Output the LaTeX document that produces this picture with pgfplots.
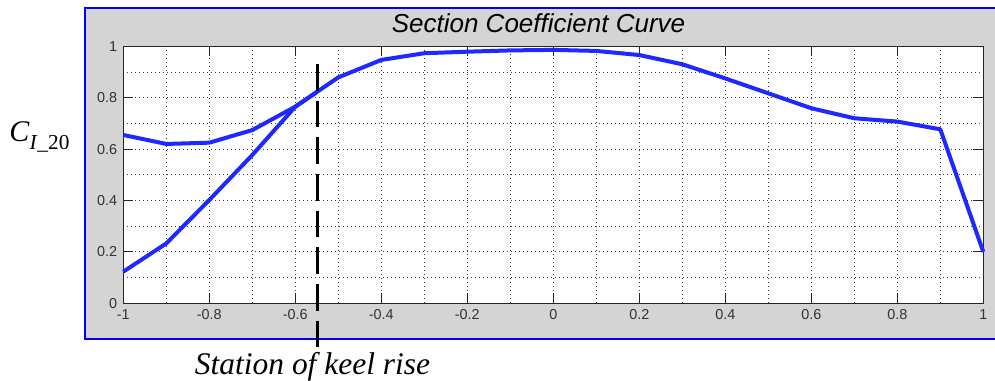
\documentclass[border=0pt]{standalone}
\usepackage{fontspec}
\setmainfont{Liberation Serif}
\newfontfamily\helv{Liberation Sans}
\usepackage{pgfplots}
\pgfplotsset{compat=1.18}
\definecolor{panelgray}{RGB}{212,212,212}
\definecolor{curveblue}{RGB}{30,40,255}
\definecolor{frameblue}{RGB}{0,0,245}
\begin{document}
\begin{tikzpicture}[x=0.75pt,y=0.75pt]
\useasboundingbox (0,0) rectangle (995,381);
% figure panel
\fill[panelgray] (84.7,42) rectangle (1010,372.7);
\draw[frameblue,line width=1.6pt] (84.7,42) rectangle (1010,372.7);
% title
\node[anchor=base,font=\helv\itshape\fontsize{19.5}{22}\selectfont] at (538.5,348) {Section Coefficient Curve};
% y label
\node[anchor=base west,inner sep=0pt] at (9,239.3) {\fontsize{22.5}{26}\selectfont\textit{C}\raisebox{-5.5pt}{\fontsize{16}{18}\selectfont\textit{I}\_20}};
% x annotation
\node[anchor=base,inner sep=0pt] at (312.5,6) {\fontsize{23.6}{27}\selectfont\textit{Station of keel rise}};
\begin{axis}[
  at={(92.475pt,58.275pt)}, anchor=south west,
  scale only axis, width=645pt, height=192.75pt,
  xmin=-1, xmax=1, ymin=0, ymax=1,
  xtick={-1,-0.8,-0.6,-0.4,-0.2,0,0.2,0.4,0.6,0.8,1},
  ytick={0,0.2,0.4,0.6,0.8,1},
  minor tick num=1,
  grid=both,
  major grid style={black!75, line width=0.6pt, dash pattern=on 0.75pt off 2.25pt},
  minor grid style={black!75, line width=0.6pt, dash pattern=on 0.75pt off 2.25pt},
  tick pos=both, tick align=inside,
  major tick length=7.5pt, minor tick length=0pt,
  tick style={black!85, line width=0.75pt},
  axis line style={black!85, line width=0.75pt},
  axis background/.style={fill=white},
  /pgf/number format/assume math mode=true,
  tick label style={font=\helv\fontsize{10.8}{12}\selectfont, text=black!80},
  xticklabel style={yshift=-1pt},
  yticklabel style={xshift=-1pt},
  clip=false,
]
\addplot[curveblue, line width=3pt, line join=round] coordinates {
  (-1,0.655) (-0.9,0.62) (-0.8,0.625) (-0.7,0.674) (-0.6,0.765)
  (-0.5,0.879) (-0.4,0.947) (-0.3,0.973) (-0.2,0.979) (-0.1,0.984)
  (0,0.986) (0.1,0.982) (0.2,0.966) (0.3,0.93) (0.4,0.875)
  (0.5,0.817) (0.6,0.759) (0.7,0.72) (0.8,0.707) (0.9,0.677) (1,0.2)
};
\addplot[curveblue, line width=3pt, line join=round] coordinates {
  (-1,0.123) (-0.9,0.233) (-0.8,0.402) (-0.7,0.577) (-0.6,0.765) (-0.55,0.822)
};
% keel-rise station marker
\draw[black, line width=2.5pt, dash pattern=on 20pt off 7.5pt]
  (axis cs:-0.548,0.931) -- (axis cs:-0.548,-0.17);
\end{axis}
\end{tikzpicture}
\end{document}
